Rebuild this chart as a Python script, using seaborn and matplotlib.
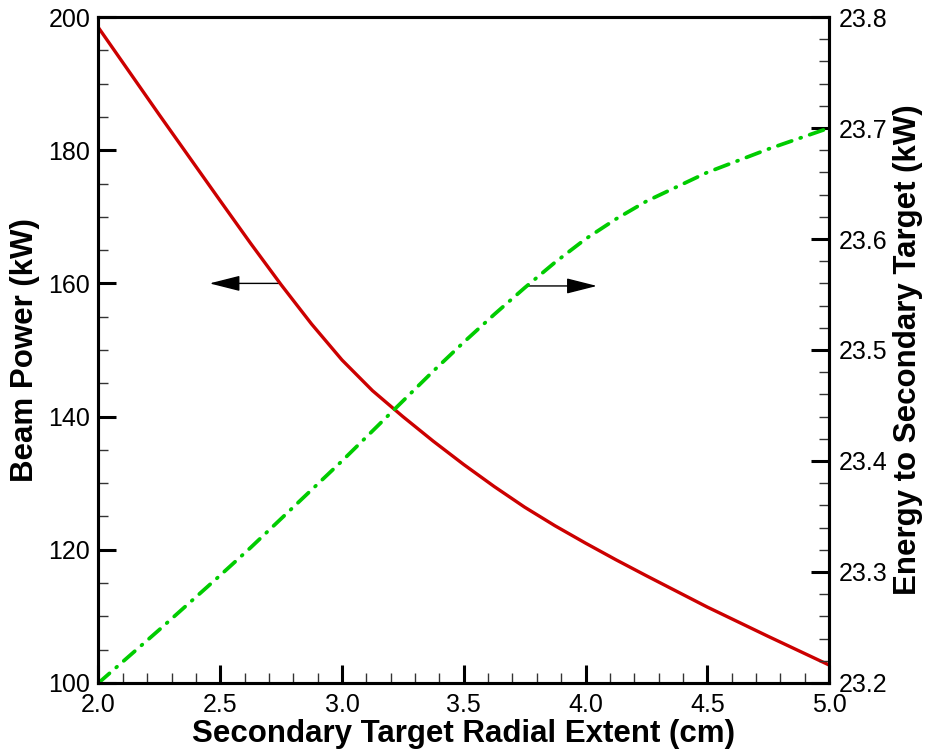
import matplotlib
matplotlib.use("Agg")
import matplotlib.pyplot as plt
from matplotlib.ticker import MultipleLocator, FormatStrFormatter
from matplotlib.patches import FancyArrowPatch
import seaborn as sns
import pandas as pd

# Secondary target radial extent (cm)
radius = [2.0, 2.25, 2.5, 2.625, 2.75, 2.875, 3.0, 3.125, 3.25, 3.375, 3.5,
          3.625, 3.75, 3.875, 4.0, 4.125, 4.25, 4.5, 4.75, 5.0]
# Beam power (kW), left axis
beam_power = [198.4, 185.3, 172.4, 166.0, 159.8, 153.9, 148.5, 143.9, 140.0,
              136.3, 132.8, 129.5, 126.4, 123.6, 121.0, 118.5, 116.1, 111.4,
              107.0, 102.7]
# Energy deposited in the secondary target (kW), right axis
target_energy = [23.200, 23.248, 23.297, 23.322, 23.348, 23.374, 23.400,
                 23.427, 23.454, 23.481, 23.507, 23.532, 23.556, 23.579,
                 23.600, 23.618, 23.634, 23.660, 23.681, 23.700]

x_ticks = [2.0, 2.5, 3.0, 3.5, 4.0, 4.5, 5.0]
left_ticks = [100, 120, 140, 160, 180, 200]
right_ticks = [23.2, 23.3, 23.4, 23.5, 23.6, 23.7, 23.8]

df = pd.DataFrame({"radius": radius, "power": beam_power, "energy": target_energy})

sns.set_style("white")
plt.rcParams["font.family"] = ["Liberation Sans", "DejaVu Sans"]
plt.rcParams["lines.scale_dashes"] = False
for key in ("text.color", "axes.labelcolor", "xtick.color", "ytick.color"):
    plt.rcParams[key] = "black"

fig = plt.figure(figsize=(9.29, 7.53), dpi=100)
ax = fig.add_axes([0.106, 0.093, 0.7864, 0.8844])
ax2 = ax.twinx()

sns.lineplot(data=df, x="radius", y="power", ax=ax, color="#cc0000",
             linewidth=2.4, sort=False)
sns.lineplot(data=df, x="radius", y="energy", ax=ax2, color="#00cc00",
             linewidth=2.7, sort=False)
green = ax2.lines[-1]
green.set_dashes((10.5, 6.5, 0.7, 6.5))
green.set_dash_capstyle("round")

ax.set_xlim(2.0, 5.0)
ax.set_ylim(100, 200)
ax2.set_ylim(23.2, 23.8)

ax.set_xticks(x_ticks)
ax.set_yticks(left_ticks)
ax2.set_yticks(right_ticks)
ax.xaxis.set_minor_locator(MultipleLocator(0.1))
ax.yaxis.set_minor_locator(MultipleLocator(5))
ax2.yaxis.set_minor_locator(MultipleLocator(0.02))
ax.xaxis.set_major_formatter(FormatStrFormatter("%.1f"))
ax.yaxis.set_major_formatter(FormatStrFormatter("%d"))
ax2.yaxis.set_major_formatter(FormatStrFormatter("%.1f"))

for a in (ax, ax2):
    for s in a.spines.values():
        s.set_linewidth(2.2)
        s.set_color("black")
        s.set_visible(True)
    a.tick_params(which="major", direction="in", length=13, width=2.2,
                  color="black", labelsize=18, labelcolor="black")
    a.tick_params(which="minor", direction="in", length=7.2, width=1.0,
                  color="#333333")

ax.tick_params(axis="x", which="both", bottom=True, top=False, pad=7)
ax.tick_params(axis="y", which="both", left=True, right=False, pad=6)
ax2.tick_params(axis="y", which="both", left=False, right=True, pad=7)

label_font = dict(fontsize=22.5, fontweight="bold", color="black")
ax.set_xlabel("Secondary Target Radial Extent (cm)", **label_font)
ax.set_ylabel("Beam Power (kW)", **label_font)
ax2.set_ylabel("Energy to Secondary Target (kW)", **label_font)
ax.xaxis.set_label_coords(0.5, -0.054)
ax.yaxis.set_label_coords(-0.080, 0.5)
ax2.yaxis.set_label_coords(1.088, 0.5)

# Arrows pointing each curve to its axis
left_arrow = FancyArrowPatch((2.746, 160), (2.456, 160),
                             arrowstyle="-|>,head_length=19,head_width=4.8",
                             mutation_scale=1, shrinkA=0, shrinkB=0,
                             color="black", linewidth=1.0,
                             transform=ax.transData)
ax.add_patch(left_arrow)
right_arrow = FancyArrowPatch((3.76, 23.5577), (4.047, 23.5577),
                              arrowstyle="-|>,head_length=19,head_width=4.8",
                              mutation_scale=1, shrinkA=0, shrinkB=0,
                              color="black", linewidth=1.0,
                              transform=ax2.transData)
ax2.add_patch(right_arrow)

fig.savefig("out.png", dpi=100, facecolor="white")
